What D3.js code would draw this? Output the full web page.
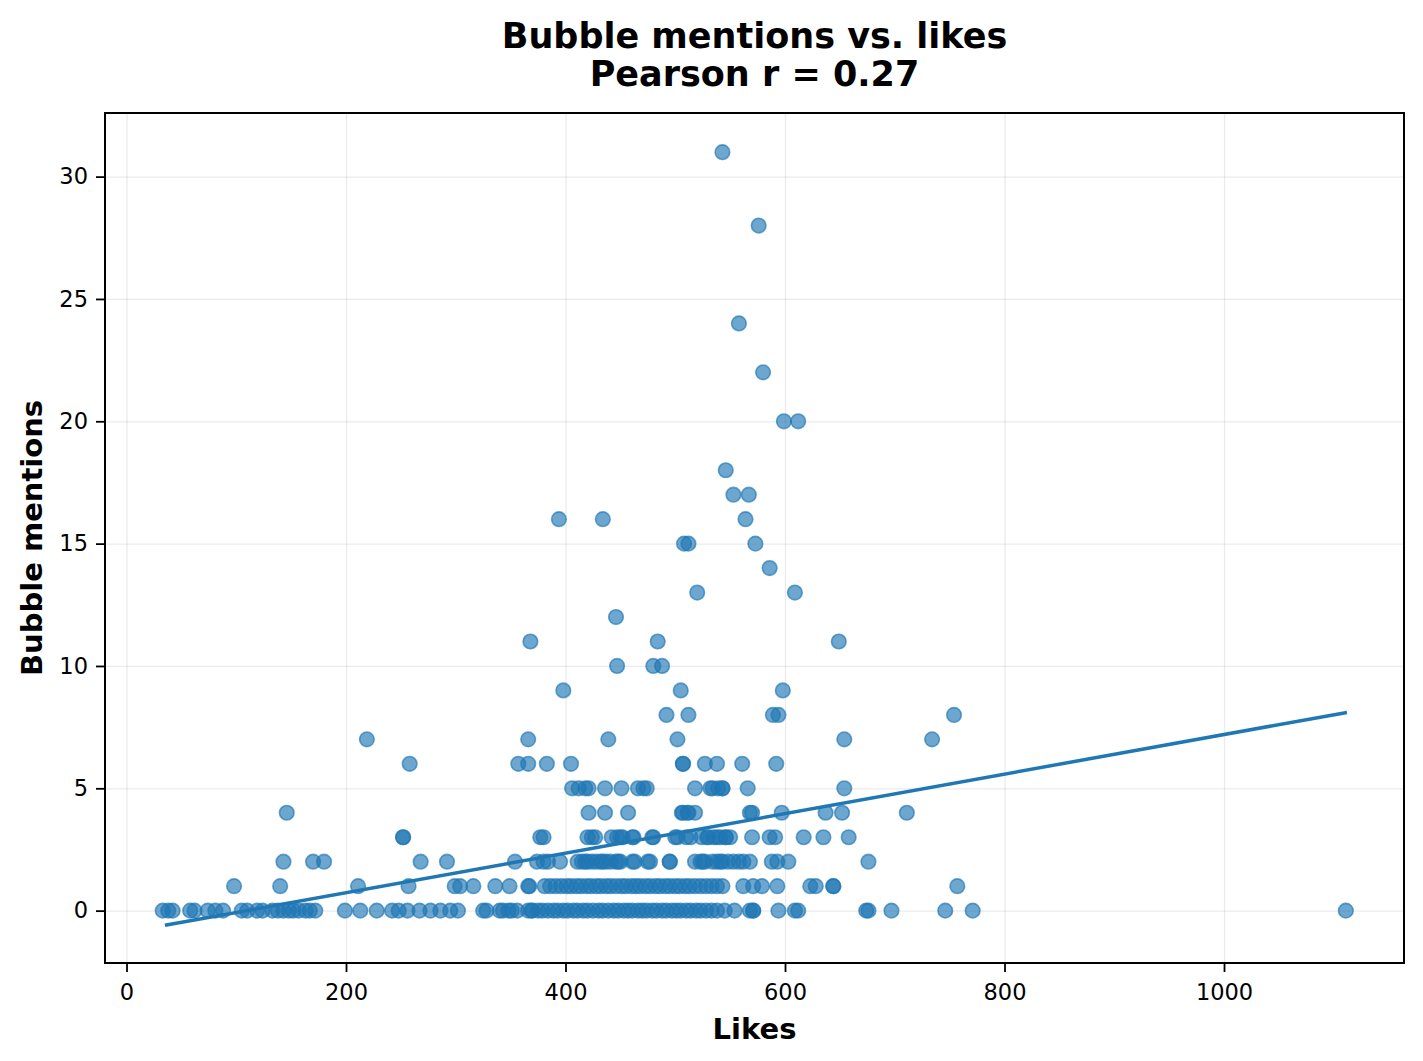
<!DOCTYPE html>
<html>
<head>
  <meta charset="utf-8">
  <title>Bubble mentions vs. likes</title>
  <script src="https://d3js.org/d3.v7.min.js"></script>
  <style>
    body { margin: 0; background: #fff; }
    svg text { font-family: "DejaVu Sans", sans-serif; fill: #000; }
    .grid line { stroke: #000; stroke-opacity: 0.08; stroke-width: 1.3; }
    .grid .domain { stroke: none; }
    .axis .domain { stroke: none; }
    .axis line { stroke: #000; stroke-width: 1.8; }
    .axis text { font-size: 22.5px; }
  </style>
</head>
<body>
  <svg id="chart" width="1423" height="1061"></svg>

  <script>
    // likes of each post, grouped by how many bubble mentions it had
    const likes0 = [33, 38, 42, 58, 62, 74, 81, 88, 105, 110, 119, 124, 133, 138, 143, 148, 152, 157, 163, 167, 172,
      199, 213, 228, 242, 248, 256, 267, 277, 286, 295, 302, 325, 328, 340, 343, 348, 351, 356, 366, 369, 370, 375,
      379, 384, 389, 393, 398, 402, 407, 411, 416, 420, 425, 430, 434, 439, 444, 448, 453, 457, 461, 466, 470, 474,
      479, 483, 488, 492, 497, 501, 505, 510, 514, 519, 523, 528, 533, 538, 545, 554, 568, 571, 571, 594, 609, 612,
      674, 676, 697, 746, 771, 1111];
    const likes1 = [98, 140, 211, 257, 299, 304, 316, 336, 349, 366, 367, 381, 386, 391, 396, 401, 405, 410, 414, 419,
      423, 428, 432, 437, 441, 446, 451, 455, 460, 464, 468, 473, 477, 482, 486, 491, 495, 500, 504, 509, 513, 518,
      523, 528, 533, 538, 543, 562, 571, 579, 593, 623, 628, 644, 644, 757];
    const likes2 = [143, 170, 180, 268, 292, 354, 374, 380, 384, 395, 411, 415, 418, 420, 424, 428, 432, 434, 437, 441,
      446, 448, 450, 461, 463, 475, 477, 495, 495, 518, 523, 525, 527, 534, 538, 541, 543, 548, 553, 558, 562, 568,
      588, 593, 603, 676];
    const likes3 = [252, 252, 377, 380, 420, 424, 427, 442, 447, 450, 452, 461, 462, 479, 480, 500, 502, 510, 514, 524,
      529, 530, 535, 538, 541, 546, 546, 550, 570, 586, 591, 617, 635, 658];
    const likes4 = [146, 421, 436, 457, 506, 507, 511, 512, 518, 568, 570, 597, 637, 652, 711];
    const likes5 = [406, 412, 418, 421, 436, 451, 466, 471, 474, 518, 532, 534, 539, 543, 543, 566, 654];
    const likes6 = [258, 357, 366, 383, 405, 507, 507, 527, 538, 561, 592];
    const likes7 = [219, 366, 439, 502, 654, 734];
    const likes8 = [492, 512, 589, 594, 754];
    const likes9 = [398, 505, 598];
    const likes10 = [447, 480, 488];
    const likes11 = [368, 484, 649];
    const likes12 = [446];
    const likes13 = [520, 609];
    const likes14 = [586];
    const likes15 = [508, 512, 573];
    const likes16 = [394, 434, 564];
    const likes17 = [553, 567];
    const likes18 = [546];
    const likes20 = [599, 612];
    const likes22 = [580];
    const likes24 = [558];
    const likes28 = [576];
    const likes31 = [543];

    const mentionLevels = [0, 1, 2, 3, 4, 5, 6, 7, 8, 9, 10, 11, 12, 13, 14, 15, 16, 17, 18, 20, 22, 24, 28, 31];
    const likesLists = [likes0, likes1, likes2, likes3, likes4, likes5, likes6, likes7, likes8, likes9, likes10,
      likes11, likes12, likes13, likes14, likes15, likes16, likes17, likes18, likes20, likes22, likes24, likes28, likes31];

    // least squares fit
    const fitLikes = [35, 1112];
    const fitSlope = 0.00808;
    const fitIntercept = -0.883;

    const xTicks = [0, 200, 400, 600, 800, 1000];
    const yTicks = [0, 5, 10, 15, 20, 25, 30];

    const titleLines = ["Bubble mentions vs. likes", "Pearson r = 0.27"];

    // flatten into points
    let points = [];
    mentionLevels.forEach((m, i) => {
      likesLists[i].forEach(l => points.push({ likes: l, mentions: m }));
    });

    const svg = d3.select("svg#chart");
    const plot = { left: 105, right: 1404, top: 113, bottom: 963 };

    const xScale = d3.scaleLinear().domain([-19.6, 1164]).range([plot.left, plot.right]);
    const yScale = d3.scaleLinear().domain([-2.14, 32.6]).range([plot.bottom, plot.top]);

    // gridlines
    svg.append("g")
      .attr("class", "grid")
      .attr("transform", `translate(0, ${plot.bottom})`)
      .call(d3.axisBottom(xScale).tickValues(xTicks).tickSize(-(plot.bottom - plot.top)).tickFormat(""));
    svg.append("g")
      .attr("class", "grid")
      .attr("transform", `translate(${plot.left}, 0)`)
      .call(d3.axisLeft(yScale).tickValues(yTicks).tickSize(-(plot.right - plot.left)).tickFormat(""));

    // points
    svg.append("g").selectAll("circle")
      .data(points)
      .join("circle")
      .attr("cx", d => xScale(d.likes))
      .attr("cy", d => yScale(d.mentions))
      .attr("r", 7.3)
      .attr("fill", "#1f77b4")
      .attr("fill-opacity", 0.65)
      .attr("stroke", "#1f77b4")
      .attr("stroke-opacity", 0.65)
      .attr("stroke-width", 1.6);

    // trend line
    const fitLine = d3.line()
      .x(d => xScale(d))
      .y(d => yScale(fitIntercept + fitSlope * d));
    svg.append("path")
      .datum(fitLikes)
      .attr("d", fitLine)
      .attr("fill", "none")
      .attr("stroke", "#1f77b4")
      .attr("stroke-width", 3.5);

    // axes
    let bottomAxis = d3.axisBottom(xScale).tickValues(xTicks).tickSize(9).tickPadding(12).tickFormat(d3.format("d"));
    svg.append("g")
      .attr("class", "axis")
      .attr("transform", `translate(0, ${plot.bottom})`)
      .call(bottomAxis);

    let leftAxis = d3.axisLeft(yScale).tickValues(yTicks).tickSize(9).tickPadding(8);
    svg.append("g")
      .attr("class", "axis")
      .attr("transform", `translate(${plot.left}, 0)`)
      .call(leftAxis);

    // frame
    svg.append("rect")
      .attr("x", plot.left)
      .attr("y", plot.top)
      .attr("width", plot.right - plot.left)
      .attr("height", plot.bottom - plot.top)
      .attr("fill", "none")
      .attr("stroke", "#000")
      .attr("stroke-width", 2);

    // labels
    svg.append("text")
      .attr("x", (plot.left + plot.right) / 2)
      .attr("y", 1039)
      .attr("text-anchor", "middle")
      .attr("font-size", 29)
      .attr("font-weight", "bold")
      .text("Likes");

    svg.append("text")
      .attr("transform", `translate(42, ${(plot.top + plot.bottom) / 2}) rotate(-90)`)
      .attr("text-anchor", "middle")
      .attr("font-size", 29)
      .attr("font-weight", "bold")
      .text("Bubble mentions");

    svg.append("g").selectAll("text")
      .data(titleLines)
      .join("text")
      .attr("x", (plot.left + plot.right) / 2)
      .attr("y", (d, i) => 48 + i * 38)
      .attr("text-anchor", "middle")
      .attr("font-size", 35)
      .attr("font-weight", "bold")
      .text(d => d);
  </script>
</body>
</html>
